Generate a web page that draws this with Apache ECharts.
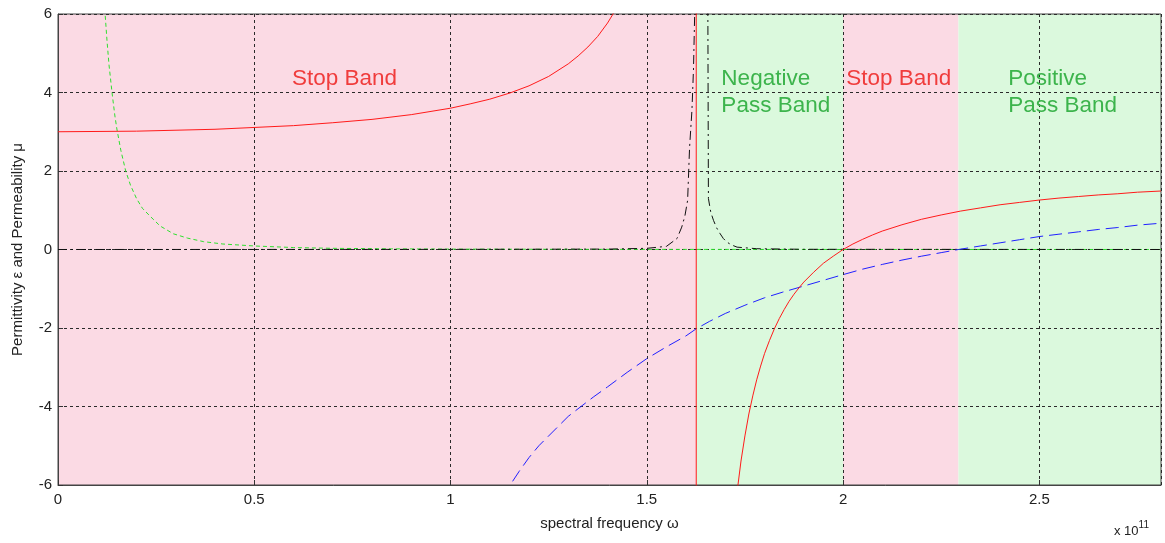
<!DOCTYPE html>
<html><head><meta charset="utf-8">
<script src="https://cdn.jsdelivr.net/npm/echarts@6/dist/echarts.min.js"></script>
<style>html,body{margin:0;padding:0;background:#fff}#c{width:1165px;height:543px}</style>
</head><body><div id="c"></div>
<script>
// ---- data (x in units of 1e11) ----
const xMin = 0, xMax = 2.81;
const yMin = -6, yMax = 6;
const xTickStep = 0.5, yTickStep = 2;

// band edges and their kind
const bandEdges = [0, 1.626, 2.0, 2.294, 2.81];
const bandKinds = ['stop', 'pass', 'stop', 'pass'];

// red solid curve (permittivity), with pole at ~1.626
const redCurve = [
  [0, 3.0], [0.2, 3.015], [0.4, 3.063], [0.6, 3.156], [0.7, 3.23], [0.8, 3.315], [0.9, 3.436],
  [1.0, 3.6], [1.05, 3.71], [1.1, 3.83], [1.152, 3.99], [1.2, 4.17], [1.25, 4.41], [1.3, 4.73],
  [1.325, 4.93], [1.35, 5.16], [1.375, 5.43], [1.4, 5.77], [1.414, 6.0], [1.45, 6.72], [1.5, 8.39], [1.55, 12.1],
  [1.6, 26.9], [1.6259, 300], [1.6261, -300], [1.65, -46], [1.68, -15.2], [1.7, -9.96],
  [1.72, -7.15], [1.73, -6.18], [1.74, -5.39], [1.75, -4.75], [1.76, -4.19], [1.77, -3.73], [1.78, -3.32],
  [1.79, -2.97], [1.8, -2.65], [1.8125, -2.32], [1.825, -2.02], [1.8375, -1.76], [1.85, -1.53],
  [1.8625, -1.32], [1.875, -1.14], [1.8875, -0.98], [1.9, -0.83], [1.925, -0.58], [1.95, -0.35],
  [1.975, -0.17], [2.0, 0.0], [2.025, 0.14], [2.05, 0.26], [2.075, 0.37], [2.1, 0.47], [2.15, 0.63],
  [2.2, 0.77], [2.25, 0.88], [2.3, 0.98], [2.35, 1.06], [2.4, 1.14], [2.45, 1.2], [2.5, 1.26],
  [2.55, 1.31], [2.6, 1.35], [2.65, 1.39], [2.7, 1.42], [2.75, 1.46], [2.81, 1.49]
];

// blue dashed curve (permeability)
const blueCurve = [
  [1.13, -6.3], [1.152, -6.0], [1.175, -5.65], [1.2, -5.3], [1.225, -5.0], [1.25, -4.75], [1.275, -4.5],
  [1.3, -4.25], [1.335, -3.98], [1.365, -3.75], [1.4, -3.5], [1.45, -3.13], [1.5, -2.78], [1.55, -2.48],
  [1.6, -2.2], [1.626, -2.02], [1.66, -1.83], [1.7, -1.63], [1.75, -1.42], [1.8, -1.23], [1.845, -1.09],
  [1.89, -0.96], [1.945, -0.8], [2.0, -0.64], [2.05, -0.5], [2.1, -0.38], [2.15, -0.27], [2.2, -0.17],
  [2.25, -0.08], [2.294, 0.0], [2.35, 0.09], [2.4, 0.17], [2.45, 0.25], [2.5, 0.33], [2.55, 0.39],
  [2.6, 0.45], [2.65, 0.51], [2.7, 0.56], [2.75, 0.62], [2.81, 0.67]
];

// green short-dashed curve
const greenCurve = [
  [0.113, 7.2], [0.12, 6.0], [0.125, 5.3], [0.13, 4.7], [0.1376, 4.0], [0.145, 3.4], [0.15, 3.07],
  [0.16, 2.53], [0.1725, 2.0], [0.185, 1.63], [0.2, 1.3], [0.215, 1.05], [0.2345, 0.85], [0.26, 0.6],
  [0.294, 0.40], [0.33, 0.29], [0.371, 0.20], [0.42, 0.14], [0.5, 0.09], [0.6, 0.05], [0.7, 0.03],
  [0.85, 0.017], [1.0, 0.01], [1.3, 0.005], [1.6, 0.003], [2.0, 0.001], [2.81, 0.0005]
];

// black dash-dot curve (loss peak)
const blackCurve = [
  [0, 0.0], [1.0, 0.003], [1.4, 0.01], [1.5, 0.03], [1.55, 0.08], [1.577, 0.28],
  [1.589, 0.57], [1.597, 0.85], [1.604, 1.25], [1.609, 2.6], [1.615, 3.54], [1.619, 4.6], [1.622, 6.0],
  [1.63, 30], [1.64, 80], [1.655, 8], [1.657, 1.3], [1.663, 0.95], [1.67, 0.74], [1.678, 0.55],
  [1.687, 0.4], [1.695, 0.28], [1.704, 0.19], [1.715, 0.12], [1.73, 0.06], [1.78, 0.02], [1.9, 0.005], [2.81, 0.0]
];

// annotations: [x, y(center of first line), text, kind]
const notes = [
  [0.596, 4.36, 'Stop Band', 'stop'],
  [1.69, 4.36, 'Negative\nPass Band', 'pass'],
  [2.008, 4.36, 'Stop Band', 'stop'],
  [2.421, 4.36, 'Positive\nPass Band', 'pass']
];

// ---- styling ----
const pink = '#fbdae4', green = '#dbf9dd';
const stopText = '#f03c3c', passText = '#3cb44c';
const gridColor = '#2a2a2a';
const tickFont = 'Liberation Sans';

const chart = echarts.init(document.getElementById('c'), null, {renderer: 'canvas'});

const bandAreas = [];
for (let i = 0; i < bandKinds.length; i++) {
  bandAreas.push([
    {xAxis: bandEdges[i], itemStyle: {color: bandKinds[i] === 'stop' ? pink : green}},
    {xAxis: bandEdges[i + 1]}
  ]);
}

const option = {
  animation: false,
  backgroundColor: '#ffffff',
  grid: {left: 58, top: 14, right: 4, bottom: 58, containLabel: false, outerBoundsMode: 'none',
         show: true, borderColor: '#444', borderWidth: 1, backgroundColor: 'transparent', z: 3},
  xAxis: {
    type: 'value', min: xMin, max: xMax, interval: xTickStep,
    name: 'spectral frequency \u03C9', nameLocation: 'middle', nameGap: 31,
    nameTextStyle: {fontFamily: tickFont, fontSize: 15, color: '#222'},
    axisLine: {show: true, onZero: false, lineStyle: {color: '#444'}},
    axisTick: {show: true, inside: true, length: 5, lineStyle: {color: '#333'}},
    axisLabel: {show: true, margin: 7, fontFamily: tickFont, fontSize: 15, color: '#222', showMaxLabel: false},
    splitLine: {show: true, lineStyle: {color: gridColor, type: [3, 3], width: 1}},
    z: 3
  },
  yAxis: {
    type: 'value', min: yMin, max: yMax, interval: yTickStep,
    name: 'Permittivity \u03B5 and Permeability \u03BC', nameLocation: 'middle', nameGap: 33,
    nameTextStyle: {fontFamily: tickFont, fontSize: 15, color: '#222'},
    axisLine: {show: true, onZero: false, lineStyle: {color: '#444'}},
    axisTick: {show: true, inside: true, length: 5, lineStyle: {color: '#333'}},
    axisLabel: {show: true, margin: 6, fontFamily: tickFont, fontSize: 15, color: '#222'},
    splitLine: {show: true, lineStyle: {color: gridColor, type: [3, 3], width: 1}},
    z: 3
  },
  series: [
    {
      type: 'line', data: [], z: -10, silent: true,
      markArea: {silent: true, z: -10, data: bandAreas}
    },
    {type: 'line', data: greenCurve, showSymbol: false, z: 5,
     lineStyle: {color: '#2ee02e', width: 1, type: [4, 3]}},
    {type: 'line', data: blackCurve, showSymbol: false, z: 6,
     lineStyle: {color: '#111', width: 1, type: [9, 4, 2, 4]}},
    {type: 'line', data: blueCurve, showSymbol: false, z: 7,
     lineStyle: {color: '#2020ff', width: 1, type: [13, 6]}},
    {type: 'line', data: redCurve, showSymbol: false, z: 8,
     lineStyle: {color: '#ff1a1a', width: 1}}
  ]
};
chart.setOption(option);

const graphics = [];
for (const n of notes) {
  const p = chart.convertToPixel({gridIndex: 0}, [n[0], n[1]]);
  graphics.push({
    type: 'text', left: p[0], top: p[1] - 13, z: 20,
    style: {text: n[2], fill: n[3] === 'stop' ? stopText : passText,
            font: '22.5px "Liberation Sans"', lineHeight: 27}
  });
}
graphics.push({
  type: 'text', left: 1114, top: 520, z: 20,
  style: {
    text: '{a|x 10}{b|11}',
    rich: {
      a: {font: '13px "Liberation Sans"', fill: '#222', padding: [6, 0, 0, 0]},
      b: {font: '10px "Liberation Sans"', fill: '#222', padding: [0, 0, 6, 0]}
    }
  }
});
chart.setOption({graphic: graphics});
</script>
</body></html>
